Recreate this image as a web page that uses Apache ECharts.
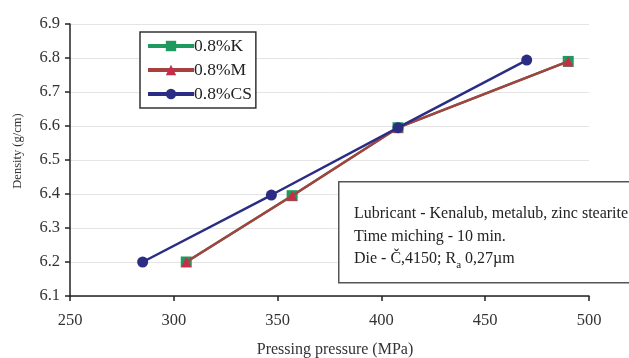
<!DOCTYPE html>
<html>
<head>
<meta charset="utf-8">
<script src="https://cdn.jsdelivr.net/npm/echarts@6/dist/echarts.min.js"></script>
<style>
  html, body { margin: 0; padding: 0; background: #fff; }
  #chart { width: 629px; height: 358px; }
</style>
</head>
<body>
<div id="chart"></div>
<script>
// Density vs. pressing pressure for three lubricant additions
const seriesNames = ['0.8%K', '0.8%M', '0.8%CS'];
const pressureK = [306, 357, 408, 490];
const densityK = [6.20, 6.395, 6.595, 6.79];
const pressureM = [306, 357, 408, 490];
const densityM = [6.20, 6.395, 6.595, 6.79];
const pressureCS = [285, 347, 408, 470];
const densityCS = [6.20, 6.397, 6.595, 6.794];
const yTitle = 'Density (g/cm)';
const xTitle = 'Pressing pressure (MPa)';
const noteLines = [
  'Lubricant - Kenalub, metalub, zinc stearite',
  'Time miching - 10 min.',
  'Die - Č,4150; R{sub|a} 0,27µm'
];

const pairs = (xs, ys) => xs.map((x, i) => [x, ys[i]]);
const FONT = '"Liberation Serif", "DejaVu Serif", serif';

const chart = echarts.init(document.getElementById('chart'));
chart.setOption({
  animation: false,
  backgroundColor: '#fff',
  textStyle: { fontFamily: FONT },
  grid: { left: 70, right: 40, top: 24, bottom: 62, containLabel: false, outerBoundsMode: 'none' },
  xAxis: {
    type: 'value', min: 250, max: 500, interval: 50,
    axisLine: { lineStyle: { color: '#222', width: 1.5 } },
    axisTick: { length: 5, lineStyle: { color: '#222', width: 1.5 } },
    axisLabel: { fontFamily: FONT, fontSize: 16.5, color: '#333', margin: 16 },
    splitLine: { show: false }
  },
  yAxis: {
    type: 'value', min: 6.1, max: 6.9, interval: 0.1,
    axisLine: { show: true, lineStyle: { color: '#222', width: 1.5 } },
    axisTick: { show: true, length: 5, lineStyle: { color: '#222', width: 1.5 } },
    axisLabel: { fontFamily: FONT, fontSize: 16.5, color: '#333', margin: 10,
      formatter: v => v.toFixed(1) },
    splitLine: { lineStyle: { color: '#e4e4e4', width: 1 } }
  },
  legend: {
    orient: 'vertical', left: 140, top: 32,
    padding: [5, 4, 5, 6], itemGap: 6,
    itemWidth: 46, itemHeight: 13,
    borderColor: '#333', borderWidth: 1.5,
    backgroundColor: '#fff',
    lineStyle: { width: 4 },
    textStyle: { fontFamily: FONT, fontSize: 17.5, color: '#222', padding: [0, 0, 0, -5] },
    data: seriesNames
  },
  series: [
    {
      name: seriesNames[0], type: 'line', data: pairs(pressureK, densityK),
      color: '#1f9a5e', symbol: 'rect', symbolSize: 11,
      lineStyle: { width: 2.5 }, z: 2
    },
    {
      name: seriesNames[1], type: 'line', data: pairs(pressureM, densityM),
      color: '#c72c4a', symbol: 'triangle', symbolSize: 10,
      lineStyle: { width: 2.5, color: '#a84040' }, z: 3
    },
    {
      name: seriesNames[2], type: 'line', data: pairs(pressureCS, densityCS),
      color: '#2b2d85', symbol: 'circle', symbolSize: 11,
      lineStyle: { width: 2.5 }, z: 4
    }
  ],
  graphic: [
    {
      type: 'text', x: 18, y: 151, rotation: Math.PI / 2, z: 11,
      style: {
        text: yTitle, fontFamily: FONT, fontSize: 12.5, fill: '#333',
        align: 'center', verticalAlign: 'middle'
      }
    },
    {
      type: 'text', x: 335, y: 350, z: 11,
      style: {
        text: xTitle, fontFamily: FONT, fontSize: 16, fill: '#333',
        align: 'center', verticalAlign: 'middle'
      }
    },
    {
      type: 'rect', left: 338, top: 181, z: 10,
      shape: { width: 300, height: 101 },
      style: { fill: '#fff', stroke: '#555', lineWidth: 1.5 }
    },
    {
      type: 'text', left: 354, top: 203, z: 11,
      style: {
        text: noteLines.join('\n'),
        fontFamily: FONT, fontSize: 16, lineHeight: 22.5, fill: '#222',
        rich: {
          sub: { fontFamily: FONT, fontSize: 11, verticalAlign: 'bottom', padding: [6, 0, 0, 0], fill: '#222' }
        }
      }
    }
  ]
});
</script>
</body>
</html>
